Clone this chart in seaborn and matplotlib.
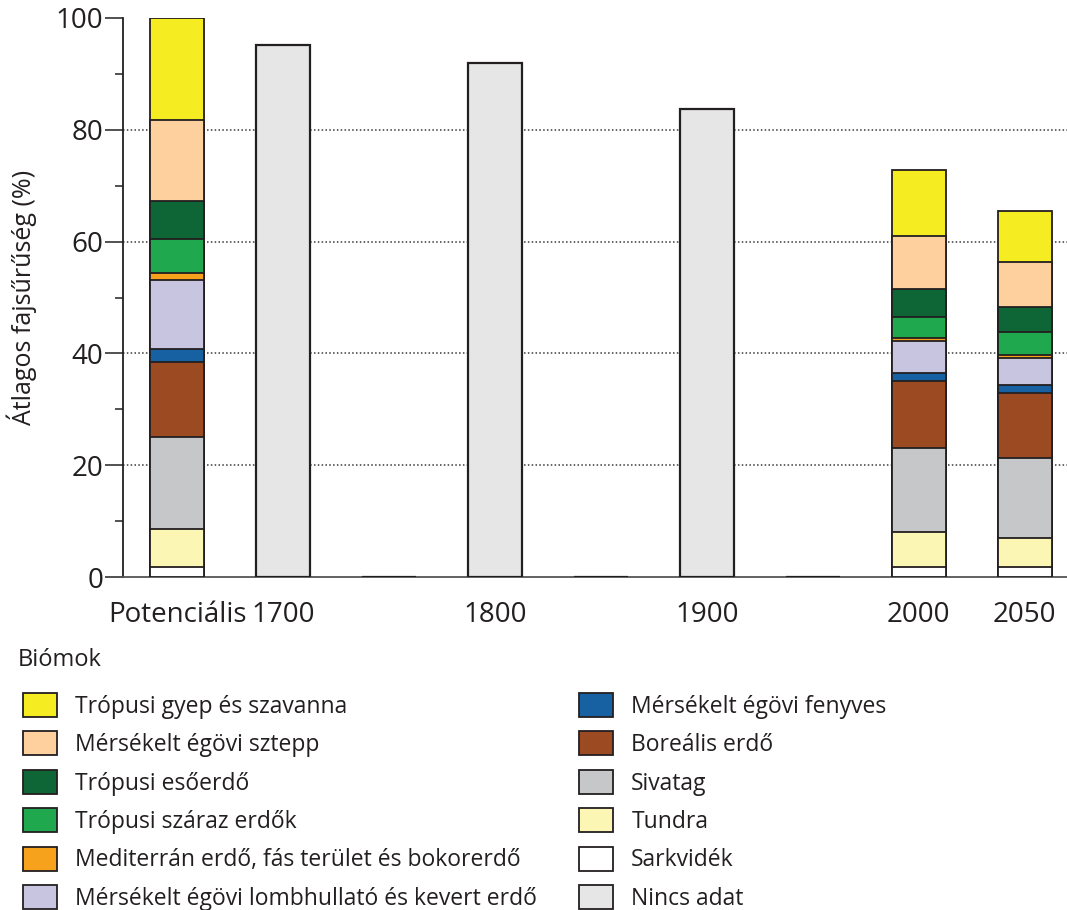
import matplotlib
matplotlib.use('Agg')
import matplotlib.pyplot as plt
from matplotlib.patches import Patch
import seaborn as sns
import pandas as pd
import numpy as np

sns.set_style('white')
plt.rcParams['font.family'] = ['Open Sans', 'DejaVu Sans']

idoszakok = ['Potenciális', '1700', '1750', '1800', '1850', '1900', '1950', '2000', '2050']
tick_cimkek = ['Potenciális', '1700', '', '1800', '', '1900', '', '2000', '2050']

# biomok alulrol felfele
biomok = ['Sarkvidék', 'Tundra', 'Sivatag', 'Boreális erdő', 'Mérsékelt égövi fenyves',
          'Mérsékelt égövi lombhullató és kevert erdő', 'Mediterrán erdő, fás terület és bokorerdő',
          'Trópusi száraz erdők', 'Trópusi esőerdő', 'Mérsékelt égövi sztepp', 'Trópusi gyep és szavanna']
szinek = ['#FFFFFF', '#FBF6B4', '#C6C7C9', '#9C4A22', '#1760A2', '#C8C5E1', '#F6A21D',
          '#1FA84E', '#0E6637', '#FDD09E', '#F5EC22']

potencialis = [1.7, 6.8, 16.6, 13.3, 2.4, 12.3, 1.3, 6.1, 6.8, 14.4, 18.3]
ev_2000 = [1.7, 6.3, 15.0, 12.0, 1.5, 5.7, 0.5, 3.9, 5.0, 9.4, 11.8]
ev_2050 = [1.7, 5.2, 14.4, 11.7, 1.4, 4.7, 0.6, 4.2, 4.4, 8.1, 9.1]

nincs_adat_idoszak = ['1700', '1750', '1800', '1850', '1900', '1950']
nincs_adat = [95.2, 0, 91.9, 0, 83.8, 0]
nincs_adat_szin = '#E6E6E6'

el = '#231F20'

rows = []
for idoszak, ertekek in [('Potenciális', potencialis), ('2000', ev_2000), ('2050', ev_2050)]:
    for b, k in zip(biomok, np.cumsum(ertekek)):
        rows.append({'idoszak': idoszak, 'biom': b, 'kum': k})
df = pd.DataFrame(rows)
df_nincs = pd.DataFrame({'idoszak': nincs_adat_idoszak, 'ertek': nincs_adat})

fig = plt.figure(figsize=(10.67, 9.10), dpi=100)
ax = fig.add_axes([123/1067, 1-577/910, 1-123/1067, (577-18)/910])

for y in [20, 40, 60, 80]:
    ax.axhline(y, color='#3a3a3a', lw=1.1, ls=(0, (1, 1.5)), zorder=0)

# halmozott oszlopok: felulrol lefele rajzolva
for b, c in zip(biomok[::-1], szinek[::-1]):
    sns.barplot(data=df[df.biom == b], x='idoszak', y='kum', order=idoszakok, color=c,
                saturation=1, width=0.51, edgecolor=el, linewidth=1.3, errorbar=None,
                ax=ax, zorder=3)
sns.barplot(data=df_nincs, x='idoszak', y='ertek', order=idoszakok, color=nincs_adat_szin,
            saturation=1, width=0.51, edgecolor=el, linewidth=1.6, errorbar=None,
            ax=ax, zorder=3)

ax.set_xlim(-0.51, 8.4)
ax.set_ylim(0, 100)
ax.set_xticks(range(len(idoszakok)))
ax.set_xticklabels(tick_cimkek)
ax.set_yticks([0, 20, 40, 60, 80, 100])
ax.set_yticks([10, 30, 50, 70, 90], minor=True)
ax.tick_params(axis='x', length=0, pad=17, labelsize=20, labelcolor='#231F20')
ax.tick_params(axis='y', which='major', length=13, width=1.2, direction='out', pad=1,
               labelsize=20, color='#333333', labelcolor='#231F20', left=True)
ax.tick_params(axis='y', which='minor', length=6, width=1.2, direction='out', color='#333333', left=True)
ax.set_xlabel('')
ax.set_ylabel('Átlagos fajsűrűség (%)', fontsize=18, color='#231F20')
ax.yaxis.set_label_coords(-0.091, 0.5)
sns.despine(ax=ax)
ax.spines['left'].set_color('#231F20')
ax.spines['bottom'].set_color('#555555')
for s in ['left', 'bottom']:
    ax.spines[s].set_linewidth(1.3)

fig.text(18/1067, 1-660/910, 'Biómok', fontsize=17, va='center', color='#231F20')

fogok = [Patch(facecolor=c, edgecolor=el, linewidth=1.3, label=b) for b, c in zip(biomok, szinek)]
fogok.append(Patch(facecolor=nincs_adat_szin, edgecolor=el, linewidth=1.3, label='Nincs adat'))
bal = [fogok[10], fogok[9], fogok[8], fogok[7], fogok[6], fogok[5]]
jobb = [fogok[4], fogok[3], fogok[2], fogok[1], fogok[0], fogok[11]]

opts = dict(frameon=False, fontsize=16.5, handlelength=1.5, handleheight=1.22, labelspacing=0.56,
            handletextpad=0.78, borderpad=0, borderaxespad=0, labelcolor='#231F20', loc='upper left')
leg1 = fig.legend(handles=bal, bbox_to_anchor=(23/1067, 1-693/910), **opts)
leg2 = fig.legend(handles=jobb, bbox_to_anchor=(579/1067, 1-693/910), **opts)

fig.savefig('out.png', dpi=100)
